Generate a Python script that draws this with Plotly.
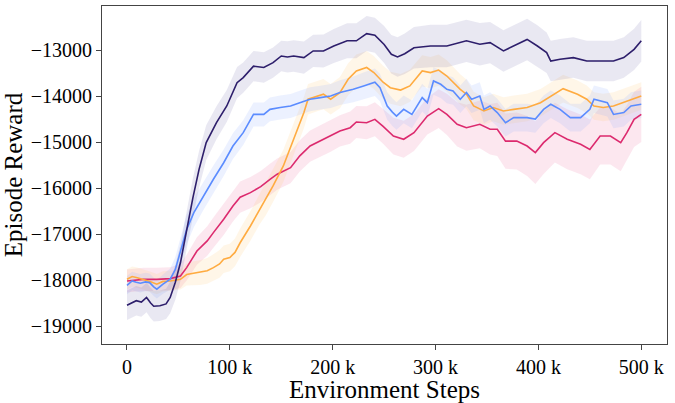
import plotly.graph_objects as go

# x in thousands of environment steps
x_dark = [0, 4, 9, 14, 19, 23, 26, 32, 38, 42, 47, 52, 58, 64, 70, 77, 87, 97, 107, 113, 123, 133, 142, 150, 156, 162, 172, 181, 191, 201, 214, 223, 233, 241, 250, 257, 263, 270, 279, 295, 311, 330, 343, 353, 366, 376, 389, 399, 408, 412, 421, 434, 447, 460, 473, 483, 493, 500]
y_dark = [-18550, -18500, -18450, -18480, -18380, -18500, -18570, -18560, -18520, -18380, -18050, -17620, -16900, -16220, -15600, -15013, -14580, -14217, -13710, -13600, -13350, -13380, -13275, -13130, -13150, -13130, -13165, -13020, -13020, -12913, -12800, -12800, -12643, -12680, -12880, -13093, -13150, -13080, -12950, -12913, -12913, -12800, -12875, -12840, -13020, -12913, -12770, -12913, -13057, -13240, -13200, -13165, -13240, -13240, -13240, -13165, -12985, -12800]
s_dark = [320, 320, 320, 320, 320, 330, 330, 330, 330, 340, 380, 400, 420, 420, 400, 380, 360, 350, 340, 330, 330, 330, 330, 330, 340, 340, 350, 350, 360, 370, 380, 380, 380, 380, 400, 420, 430, 440, 450, 460, 460, 460, 460, 450, 450, 450, 450, 450, 440, 440, 440, 440, 440, 440, 440, 440, 450, 450]

x_blue = [0, 5, 9, 13, 18, 22, 26, 29, 35, 42, 47, 52, 58, 65, 74, 84, 94, 103, 113, 123, 133, 139, 149, 159, 168, 178, 188, 198, 207, 220, 230, 241, 246, 253, 258, 262, 269, 277, 287, 292, 298, 305, 311, 317, 324, 330, 335, 343, 347, 353, 360, 368, 376, 389, 397, 405, 412, 421, 431, 441, 450, 454, 467, 473, 483, 490, 500]
y_blue = [-18115, -18020, -18050, -18070, -18040, -18056, -18150, -18200, -18090, -17980, -17770, -17400, -16900, -16535, -16180, -15810, -15450, -15087, -14796, -14400, -14400, -14290, -14250, -14217, -14145, -14070, -14035, -14000, -13925, -13855, -13780, -13700, -13820, -14217, -14350, -14435, -14290, -14400, -14035, -14145, -13673, -13745, -13855, -13890, -14070, -13925, -14070, -14000, -14290, -14217, -14360, -14580, -14470, -14470, -14500, -14290, -14180, -14290, -14470, -14470, -14290, -14070, -14145, -14400, -14360, -14217, -14180]
s_blue = [200, 200, 200, 200, 200, 200, 200, 200, 210, 230, 270, 300, 320, 320, 310, 300, 290, 280, 270, 260, 260, 260, 260, 260, 260, 260, 260, 260, 270, 280, 290, 300, 300, 300, 300, 300, 300, 300, 300, 300, 300, 300, 300, 300, 300, 300, 300, 300, 300, 300, 300, 300, 300, 300, 300, 300, 300, 300, 300, 300, 300, 300, 300, 300, 300, 300, 300]

x_orange = [0, 5, 10, 16, 23, 29, 35, 42, 52, 58, 65, 71, 78, 84, 90, 94, 100, 105, 110, 120, 129, 135, 142, 152, 162, 172, 176, 185, 191, 198, 207, 215, 223, 233, 240, 249, 256, 266, 275, 287, 295, 303, 311, 324, 330, 337, 347, 356, 366, 376, 389, 402, 412, 424, 438, 447, 454, 463, 473, 486, 500]
y_orange = [-17985, -17925, -17950, -17985, -18040, -18090, -18030, -18020, -17985, -17880, -17850, -17840, -17800, -17730, -17650, -17550, -17510, -17400, -17190, -16825, -16460, -16250, -15955, -15520, -14940, -14360, -14070, -14000, -13960, -14070, -13925, -13635, -13455, -13380, -13490, -13700, -13820, -13870, -13780, -13455, -13490, -13435, -13565, -13855, -13960, -14217, -14325, -14250, -14325, -14290, -14250, -14145, -14000, -13840, -13960, -14070, -14217, -14250, -14217, -14110, -14000]
s_orange = [220, 220, 220, 220, 220, 220, 220, 220, 220, 240, 260, 270, 280, 290, 300, 300, 300, 300, 310, 320, 330, 340, 350, 350, 350, 340, 330, 330, 330, 330, 340, 350, 360, 360, 360, 360, 350, 350, 350, 340, 340, 340, 340, 330, 320, 310, 300, 300, 300, 300, 300, 300, 300, 300, 300, 300, 300, 300, 300, 300, 300]

x_pink = [0, 8, 16, 29, 42, 52, 58, 68, 78, 84, 94, 103, 110, 120, 130, 139, 146, 159, 168, 178, 188, 198, 207, 217, 223, 233, 241, 249, 259, 269, 279, 292, 303, 311, 321, 330, 343, 353, 360, 368, 379, 389, 397, 405, 416, 428, 441, 450, 460, 470, 480, 486, 493, 500]
y_pink = [-18020, -18000, -17985, -17985, -17970, -17913, -17730, -17370, -17150, -16970, -16680, -16390, -16200, -16100, -15970, -15810, -15700, -15557, -15300, -15087, -14980, -14870, -14760, -14688, -14565, -14580, -14507, -14660, -14870, -14940, -14796, -14435, -14275, -14400, -14615, -14688, -14615, -14724, -14724, -14980, -14980, -15087, -15230, -15013, -14796, -14940, -15050, -15160, -14870, -14870, -15013, -14796, -14507, -14400]
s_pink = [250, 250, 250, 250, 250, 260, 280, 300, 320, 330, 340, 340, 340, 340, 340, 340, 340, 340, 340, 340, 340, 340, 340, 350, 350, 360, 370, 380, 400, 400, 400, 400, 420, 450, 480, 500, 520, 550, 580, 600, 620, 650, 680, 680, 650, 650, 650, 650, 620, 620, 620, 600, 600, 600]

x_tickvals = [0, 100, 200, 300, 400, 500]
x_ticktext = ["0", "100 k", "200 k", "300 k", "400 k", "500 k"]
y_tickvals = [-19000, -18000, -17000, -16000, -15000, -14000, -13000]
y_ticktext = ["\u221219000", "\u221218000", "\u221217000", "\u221216000", "\u221215000", "\u221214000", "\u221213000"]

series = [
    (x_pink, y_pink, s_pink, "#dc2a6e", "rgba(236,110,160,0.17)"),
    (x_orange, y_orange, s_orange, "#ffab40", "rgba(255,200,120,0.17)"),
    (x_blue, y_blue, s_blue, "#5b8cff", "rgba(140,170,255,0.17)"),
    (x_dark, y_dark, s_dark, "#2d1e6b", "rgba(110,100,170,0.15)"),
]

fig = go.Figure()
for xs, ys, ss, col, fill in series:
    upper = [y + s for y, s in zip(ys, ss)]
    lower = [y - s for y, s in zip(ys, ss)]
    fig.add_trace(go.Scatter(x=xs + xs[::-1], y=upper + lower[::-1], fill="toself",
                             fillcolor=fill, line=dict(width=0), hoverinfo="skip",
                             showlegend=False, mode="lines"))
for xs, ys, ss, col, fill in series:
    fig.add_trace(go.Scatter(x=xs, y=ys, mode="lines", line=dict(color=col, width=1.6),
                             showlegend=False))

font = "Liberation Serif, Times New Roman, serif"
fig.update_layout(
    width=675, height=403,
    margin=dict(l=102, r=8, t=6, b=59, autoexpand=False),
    plot_bgcolor="white", paper_bgcolor="white",
    font=dict(family=font, color="black"),
)
fig.update_xaxes(range=[-24.3, 525], tickvals=x_tickvals, ticktext=x_ticktext,
                 ticks="outside", ticklen=5, tickcolor="#444", showline=True, linecolor="#444",
                 linewidth=1, mirror=True, showgrid=False, zeroline=False,
                 tickfont=dict(size=20, family=font),
                 title=dict(text="Environment Steps", font=dict(size=25, family=font), standoff=2))
fig.update_yaxes(range=[-19391, -12043], tickvals=y_tickvals, ticktext=y_ticktext,
                 ticks="outside", ticklen=5, tickcolor="#444", showline=True, linecolor="#444",
                 linewidth=1, mirror=True, showgrid=False, zeroline=False,
                 tickfont=dict(size=20, family=font),
                 title=dict(text="Episode Reward", font=dict(size=25, family=font), standoff=6))
fig.write_html("out.html", config={"displayModeBar": False},
               post_script="document.body.style.margin='0px';")
